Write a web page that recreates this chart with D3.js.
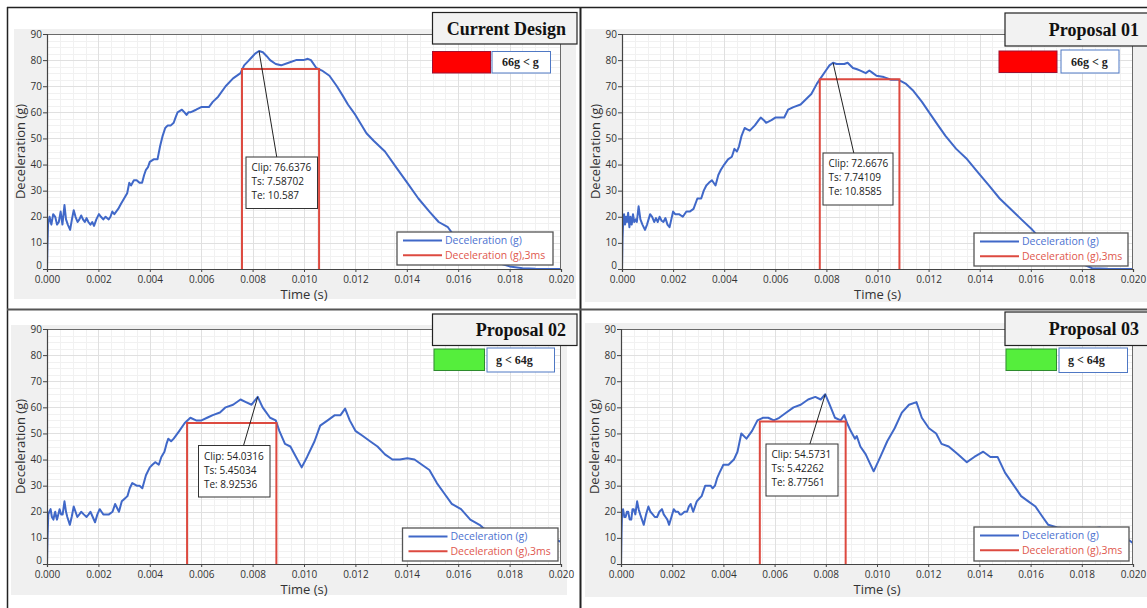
<!DOCTYPE html>
<html><head><meta charset="utf-8">
<script src="https://cdn.jsdelivr.net/npm/d3@7"></script>
<style>body{margin:0;background:#fff}svg{display:block}</style>
</head><body><svg id="c" width="1147" height="608"></svg>
<script>
// ---------- DATA ----------
const xTicks = [0, 0.002, 0.004, 0.006, 0.008, 0.010, 0.012, 0.014, 0.016, 0.018, 0.020];
const yTicks = [0, 10, 20, 30, 40, 50, 60, 70, 80, 90];
const panelTitles = ["Current Design", "Proposal 01", "Proposal 02", "Proposal 03"];
const badgeLabels = ["66g < g", "66g < g", "g < 64g", "g < 64g"];
const badgeStatus = ["fail", "fail", "pass", "pass"];
const clipValues = [76.6376, 72.6676, 54.0316, 54.5731];
const tsValues = [7.58702, 7.74109, 5.45034, 5.42262];   // ms
const teValues = [10.587, 10.8585, 8.92536, 8.77561];    // ms
const legendLabels = ["Deceleration (g)", "Deceleration (g),3ms"];
const xLabel = "Time (s)";
const yLabel = "Deceleration (g)";

const time1 = [0,0.00002,0.00004,0.0001,0.00017,0.00024,0.00032,0.00039,0.00046,0.00053,0.0006,0.00068,0.00074,0.00081,0.0009,0.00097,0.00104,0.00111,0.00119,0.00126,0.00133,0.0014,0.00147,0.00154,0.00161,0.00169,0.00176,0.00183,0.00192,0.00202,0.0021,0.00219,0.00228,0.0024,0.00247,0.00254,0.00262,0.00277,0.00288,0.003,0.00312,0.0032,0.00327,0.00338,0.00349,0.0036,0.0037,0.00378,0.00385,0.00393,0.004,0.00415,0.0043,0.0044,0.0045,0.0046,0.0047,0.00482,0.00493,0.005,0.00508,0.00525,0.00535,0.00543,0.0055,0.00558,0.0058,0.006,0.0063,0.00645,0.00666,0.00695,0.00724,0.00753,0.00767,0.00782,0.00796,0.0081,0.00825,0.0084,0.00855,0.00868,0.0089,0.00911,0.0094,0.00969,0.00998,0.01015,0.01027,0.01048,0.0107,0.01099,0.01128,0.0115,0.01171,0.012,0.01243,0.01272,0.01315,0.01358,0.01402,0.01445,0.01488,0.01524,0.0156,0.01589,0.0165,0.017,0.0175,0.018,0.0185,0.019,0.02];
const decel1 = [0,10,17,20,17,21,20,17,18,22,17,24.5,19,17,15,19,22.5,20,18,19,20.5,19,18,19.5,18,17,18,16.5,19,21,20,19,20,19,20,22,21,23,25,27,29,33,32,34,34,33,33,36,38,39,41,42,42,47,51,54,55,55,56,58,60,61,60,59,60,60,61,62,62,64,66,70,73,75,78,79.5,81,82.5,83.5,83,81.5,80,78.5,78,79,80,80,80.5,80,77,76,74,70,66.5,63,59,52,49,45,39,33,27,22,18,16,12,8,5,2.5,1,0.3,0.1,0];

const time2 = [0,0.00002,0.00005,0.00008,0.00012,0.00016,0.0002,0.00024,0.00029,0.00033,0.00038,0.00043,0.00048,0.00054,0.00058,0.00065,0.00072,0.0008,0.0009,0.00098,0.00104,0.0011,0.00118,0.00126,0.00133,0.0014,0.00147,0.00155,0.00162,0.0017,0.00178,0.00186,0.00193,0.002,0.00208,0.00223,0.00238,0.00252,0.00265,0.0028,0.00295,0.0031,0.0032,0.0033,0.0034,0.00352,0.00366,0.00377,0.00387,0.004,0.00415,0.0043,0.0044,0.0045,0.00458,0.00468,0.0048,0.0049,0.005,0.0052,0.00535,0.00543,0.00555,0.00564,0.00585,0.006,0.00614,0.00635,0.0065,0.00671,0.00699,0.0072,0.00741,0.00763,0.00777,0.00798,0.00812,0.00826,0.0084,0.00855,0.0087,0.00883,0.00904,0.0092,0.00933,0.00954,0.00968,0.00982,0.00996,0.01025,0.01053,0.01081,0.0111,0.01138,0.01174,0.01202,0.01237,0.01266,0.01308,0.01351,0.01393,0.01436,0.01478,0.01521,0.01563,0.01606,0.01634,0.017,0.0175,0.018,0.0184,0.019,0.02];
const decel2 = [0,12,19,21,17,20,18,21.5,16,20,17,21,18,19,18,24,19,17,15,17,19,21,20,18,19.5,18,20,18.5,18,19.5,17,16,19,22,21,21,20,22,22,23,27,27,30,32,33,34,32,36,38,40,42,43,46,45,47,51,54,53.5,53,55,57,58,57,56,57,58,58,58,61,62,63,65,67,71,73,76,78,79,78.5,78.5,78.5,79,77,76.5,76,75,76,75,74,73.5,72.5,72.5,71,68.5,64,60,55,51,46,42,37,32,27,23,19,15,12,8,5,2,0.3,0.1,0];

const time3 = [0,0.00002,0.00005,0.00009,0.00014,0.00019,0.00025,0.00029,0.00032,0.00036,0.00039,0.00044,0.00049,0.00055,0.00061,0.00068,0.00074,0.00079,0.00089,0.00096,0.00104,0.00111,0.00118,0.00126,0.00133,0.00143,0.00154,0.00162,0.00169,0.00178,0.00187,0.00196,0.00205,0.00212,0.00219,0.0023,0.00241,0.00255,0.00265,0.0028,0.00291,0.00302,0.00313,0.00322,0.00332,0.00349,0.0036,0.00371,0.00385,0.004,0.0041,0.00421,0.00435,0.00445,0.00457,0.00465,0.00472,0.00483,0.00493,0.00515,0.00536,0.00558,0.0058,0.00601,0.00623,0.00645,0.00673,0.00695,0.00724,0.00753,0.00774,0.00796,0.0082,0.00839,0.00868,0.0089,0.00904,0.00926,0.00947,0.00969,0.00991,0.01012,0.01041,0.01063,0.01092,0.0112,0.01142,0.0116,0.01178,0.012,0.01229,0.01257,0.01286,0.01315,0.01344,0.01373,0.01402,0.0143,0.01459,0.01488,0.01517,0.01546,0.01575,0.01611,0.01647,0.01683,0.01719,0.0176,0.018,0.0185,0.019,0.0195,0.01986,0.02];
const decel3 = [0,10,19,20,21,18,17,19,20,18,17,19,21,19,19,24,20,18,15,18,22,20,18,19,20,19,18,19,20,18,16,19,21,20,19,19,19,20,23,20,24,25,26,29,31,30,30,29,34,37,38,39,38,41,43,46,48,47,48,51,54,56,55,55,56,57,58,60,61,63,62,61,64,60,56,55,51,46,45,41,37,41,47,53,55,57,57,59.5,55,51,49,47,45,42,40,40,40.5,40,38,36,31,27,23,21,17,15,12,11,11,11,10,9.5,9,8.5];

const time4 = [0,0.00002,0.00004,0.00008,0.00013,0.00018,0.00023,0.00028,0.00034,0.0004,0.00045,0.0005,0.00056,0.00063,0.00069,0.00075,0.00082,0.00089,0.00098,0.00107,0.00115,0.00124,0.00132,0.00141,0.0015,0.0016,0.00167,0.00174,0.00181,0.00188,0.00197,0.00206,0.00214,0.00223,0.0023,0.00237,0.00248,0.00258,0.00265,0.00272,0.00282,0.00296,0.00305,0.00315,0.00322,0.00329,0.0034,0.0035,0.00358,0.00367,0.00376,0.00385,0.004,0.0042,0.00441,0.00455,0.0047,0.0049,0.00512,0.00533,0.00554,0.00575,0.00597,0.00618,0.00646,0.00674,0.00702,0.00731,0.00759,0.0078,0.00798,0.00815,0.00836,0.00858,0.00872,0.00883,0.00897,0.00914,0.00921,0.00935,0.00956,0.0097,0.00987,0.01013,0.0104,0.01069,0.01097,0.01125,0.01154,0.01175,0.01203,0.01231,0.01252,0.0128,0.01316,0.01351,0.0138,0.01415,0.01443,0.01471,0.015,0.01535,0.01563,0.01591,0.01619,0.01647,0.01669,0.01704,0.0175,0.018,0.0187,0.019,0.0195,0.01986,0.02];
const decel4 = [0,12,19,21,18,18,20,20,17,17,21,21,19,24,21,19,17,15,19,22,20,19,18,18,20,21,19,18,17,15,18,21,20,20,19,19,20,20,22,23,20,24,25,26,28,30,30,30,29,30,33,35,38,38,40,43,50,48,51,55,56,56,55,56,58,60,61,63,64,63,65,61,56,55,57,54,51,48,49,45,42,39,35.5,41,47,52,58,61,62,56,52,50,46,45,42,39,41,43,41,41,35,30,26,24,22,18,15,14,13.5,13,14,12,10,9,8];

const times = [time1, time2, time3, time4];
const decels = [decel1, decel2, decel3, decel4];

// ---------- LAYOUT ----------
const W = 1147, H = 608;
const panels = [
  {px:[47,561], py:[34,269], bg:[14,29,576,299], title:[432.5,12.5,144.5,31.5], badge:[432.5,51.5,58,21.5], blab:[492,51.5,58.5,21.5], leg:[397,232,156,33], ann:[246,157,71.5,51.5], annAnchor:0.43},
  {px:[622,1133], py:[34,269], bg:[585,29,1147,302], title:[1005,13,150,33], badge:[999,51,58,21.5], blab:[1061,50,58,23], leg:[974,233,154,33], ann:[823,153,70,52], annAnchor:0.44},
  {px:[47,561], py:[329,564], bg:[11,325,567,595], title:[432.5,314,144.5,31.5], badge:[434,349,50.5,21.5], blab:[487,348,67.5,24], leg:[402.5,528,155.5,33], ann:[198.5,445.5,71.5,51.5], annAnchor:0.63},
  {px:[621,1133], py:[329,564], bg:[585,323,1147,597], title:[1005,312,150,33.5], badge:[1006,349,50.5,21.5], blab:[1059,348,68.5,24.5], leg:[974,527,155,34], ann:[766,444,72,52], annAnchor:0.61}
];

const BLUE = "#4068c8", RED = "#dd4a40";
const svg = d3.select("#c");
svg.append("rect").attr("width", W).attr("height", H).attr("fill", "#fff");

panels.forEach((L, i) => {
  const g = svg.append("g");
  g.append("rect").attr("x", L.bg[0]).attr("y", L.bg[1])
    .attr("width", L.bg[2] - L.bg[0]).attr("height", L.bg[3] - L.bg[1]).attr("fill", "#f0f0f0");

  const x = d3.scaleLinear().domain([xTicks[0], xTicks[xTicks.length - 1]]).range(L.px);
  const y = d3.scaleLinear().domain([yTicks[0], yTicks[yTicks.length - 1]]).range([L.py[1], L.py[0]]);

  g.append("rect").attr("x", L.px[0]).attr("y", L.py[0])
    .attr("width", L.px[1] - L.px[0]).attr("height", L.py[1] - L.py[0]).attr("fill", "#fff");

  // grid: minor then major
  const xMinor = d3.range(1, 40).map(k => k * 0.0005).filter((v, k) => (k + 1) % 4 !== 0);
  const yMinor = d3.range(1, 36).map(k => k * 2.5).filter((v, k) => (k + 1) % 4 !== 0);
  const grid = g.append("g").attr("shape-rendering", "crispEdges");
  grid.selectAll(".vx").data(xMinor).join("line")
    .attr("x1", d => Math.round(x(d)) + 0.5).attr("x2", d => Math.round(x(d)) + 0.5)
    .attr("y1", L.py[0]).attr("y2", L.py[1]).attr("stroke", "#f1f1f1");
  grid.selectAll(".hy").data(yMinor).join("line")
    .attr("y1", d => Math.round(y(d)) + 0.5).attr("y2", d => Math.round(y(d)) + 0.5)
    .attr("x1", L.px[0]).attr("x2", L.px[1]).attr("stroke", "#f1f1f1");
  grid.selectAll(".vX").data(xTicks.slice(1, -1)).join("line")
    .attr("x1", d => Math.round(x(d)) + 0.5).attr("x2", d => Math.round(x(d)) + 0.5)
    .attr("y1", L.py[0]).attr("y2", L.py[1]).attr("stroke", "#e0e0e0");
  grid.selectAll(".hY").data(yTicks.slice(1, -1)).join("line")
    .attr("y1", d => Math.round(y(d)) + 0.5).attr("y2", d => Math.round(y(d)) + 0.5)
    .attr("x1", L.px[0]).attr("x2", L.px[1]).attr("stroke", "#e0e0e0");

  // clip
  const cid = "clip" + i;
  g.append("clipPath").attr("id", cid).append("rect")
    .attr("x", L.px[0]).attr("y", L.py[0] - 2).attr("width", L.px[1] - L.px[0]).attr("height", L.py[1] - L.py[0] + 2);

  // blue curve
  const pts = times[i].map((t, k) => [t, decels[i][k]]);
  const line = d3.line().x(d => x(d[0])).y(d => y(d[1]));
  g.append("path").datum(pts).attr("d", line).attr("fill", "none")
    .attr("stroke", BLUE).attr("stroke-width", 2).attr("stroke-linejoin", "round")
    .attr("clip-path", `url(#${cid})`);

  // red 3ms window
  const x0 = x(tsValues[i] / 1000), x1 = x(teValues[i] / 1000), yc = y(clipValues[i]), yb = y(0);
  g.append("path").attr("d", `M${x0},${yb}V${yc}H${x1}V${yb}`)
    .attr("fill", "none").attr("stroke", RED).attr("stroke-width", 2);

  // frame
  g.append("rect").attr("x", L.px[0] + 0.5).attr("y", L.py[0] + 0.5)
    .attr("width", L.px[1] - L.px[0] - 1).attr("height", L.py[1] - L.py[0])
    .attr("fill", "none").attr("stroke", "#6a6a6a").attr("shape-rendering", "crispEdges");

  // axes
  const ax = g.append("g").attr("transform", `translate(0,${L.py[1]})`)
    .call(d3.axisBottom(x).tickValues(xTicks).tickFormat(d3.format(".3f")).tickSize(3).tickPadding(3.5));
  const ay = g.append("g").attr("transform", `translate(${L.px[0]},0)`)
    .call(d3.axisLeft(y).tickValues(yTicks).tickFormat(d3.format("d")).tickSize(4).tickPadding(1));
  [ax, ay].forEach(a => {
    a.select(".domain").attr("stroke", "#444").attr("stroke-width", 1.2);
    a.selectAll(".tick line").attr("stroke", "#444");
    a.selectAll(".tick text").attr("fill", "#333").style("font-family", "Open Sans").style("font-size", "10px");
  });
  ay.selectAll(".tick text").attr("dy", d => d === 0 ? "-0.1em" : "0.3em");

  g.append("text").attr("x", (L.px[0] + L.px[1]) / 2).attr("y", L.py[1] + 29.5)
    .attr("text-anchor", "middle").attr("fill", "#333")
    .style("font-family", "Open Sans").style("font-size", "13px").text(xLabel);
  g.append("text").attr("transform", `translate(${L.px[0] - 27},${(L.py[0] + L.py[1]) / 2}) rotate(-90)`)
    .attr("text-anchor", "middle").attr("dy", "0.35em").attr("fill", "#333")
    .style("font-family", "Open Sans").style("font-size", "13px").text(yLabel);

  // annotation with leader
  let pk = 0;
  decels[i].forEach((v, k) => { if (v > decels[i][pk]) pk = k; });
  const A = L.ann;
  g.append("line").attr("x1", x(times[i][pk])).attr("y1", y(decels[i][pk]))
    .attr("x2", A[0] + A[2] * L.annAnchor).attr("y2", A[1]).attr("stroke", "#222").attr("stroke-width", 1);
  g.append("rect").attr("x", A[0]).attr("y", A[1]).attr("width", A[2]).attr("height", A[3])
    .attr("fill", "#fff").attr("stroke", "#333").attr("stroke-width", 1);
  const annLines = ["Clip: " + clipValues[i], "Ts: " + tsValues[i], "Te: " + teValues[i]];
  g.selectAll(".ann").data(annLines).join("text")
    .attr("x", A[0] + 5.5).attr("y", (d, k) => A[1] + 14 + k * 14.2)
    .attr("fill", "#222").style("font-family", "Open Sans").style("font-size", "10px").text(d => d);

  // legend
  const G = L.leg;
  g.append("rect").attr("x", G[0]).attr("y", G[1]).attr("width", G[2]).attr("height", G[3])
    .attr("fill", "#fff").attr("stroke", "#555").attr("stroke-width", 1.3);
  const legColors = [BLUE, RED];
  legendLabels.forEach((lab, k) => {
    const ly = G[1] + 8.5 + k * 14.7;
    g.append("line").attr("x1", G[0] + 6).attr("x2", G[0] + 45).attr("y1", ly).attr("y2", ly)
      .attr("stroke", legColors[k]).attr("stroke-width", 2);
    g.append("text").attr("x", G[0] + 48).attr("y", ly).attr("dy", "0.35em")
      .attr("fill", k === 0 ? "#4d72d0" : "#e0584e")
      .style("font-family", "Open Sans").style("font-size", "10.5px").text(lab);
  });

  // title box
  const T = L.title;
  g.append("rect").attr("x", T[0]).attr("y", T[1]).attr("width", T[2]).attr("height", T[3])
    .attr("fill", "#f2f2f2").attr("stroke", "#222").attr("stroke-width", 1.2);
  g.append("text").attr("x", i % 2 === 0 ? T[0] + T[2] - 11 : L.bg[2] - 8).attr("y", T[1] + T[3] / 2)
    .attr("dy", "0.35em").attr("text-anchor", "end")
    .style("font-family", "Liberation Serif").style("font-weight", "bold").style("font-size", "18px")
    .attr("fill", "#111").text(panelTitles[i]);

  // badge
  const B = L.badge, BL = L.blab;
  g.append("rect").attr("x", B[0]).attr("y", B[1]).attr("width", B[2]).attr("height", B[3])
    .attr("fill", badgeStatus[i] === "fail" ? "#ff0000" : "#55ee3c")
    .attr("stroke", badgeStatus[i] === "fail" ? "#a01030" : "#2e8b2e").attr("stroke-width", 1);
  g.append("rect").attr("x", BL[0]).attr("y", BL[1]).attr("width", BL[2]).attr("height", BL[3])
    .attr("fill", "#fff").attr("stroke", "#4f78c4").attr("stroke-width", 1);
  g.append("text").attr("x", BL[0] + (badgeStatus[i] === "fail" ? 10 : 9)).attr("y", BL[1] + BL[3] / 2)
    .attr("dy", "0.35em").attr("fill", "#222")
    .style("font-family", "Liberation Serif").style("font-weight", "bold").style("font-size", "12px")
    .text(badgeLabels[i]);
});

// table borders
const borders = [
  [7.5, 7, 7.5, H, "#222", 1.5],
  [7, 7.5, W, 7.5, "#222", 1.5],
  [580.5, 7, 580.5, H, "#222", 2],
  [7, 309.5, W, 309.5, "#555", 2]
];
svg.selectAll(".bd").data(borders).join("line")
  .attr("x1", d => d[0]).attr("y1", d => d[1]).attr("x2", d => d[2]).attr("y2", d => d[3])
  .attr("stroke", d => d[4]).attr("stroke-width", d => d[5]);
</script>
</body></html>
